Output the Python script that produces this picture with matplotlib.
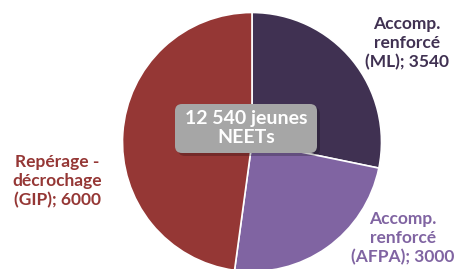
import matplotlib.pyplot as plt
from matplotlib.patches import FancyBboxPatch

# DATA
labels = ["Accomp.\nrenforcé\n(ML)", "Accomp.\nrenforcé\n(AFPA)", "Repérage -\ndécrochage\n(GIP)"]
values = [3540, 3000, 6000]
colors = ["#403152", "#8064A2", "#953735"]
center_text = "12 540 jeunes\nNEETs"

W, H = 454, 269
fig = plt.figure(figsize=(W / 100, H / 100), dpi=100)
ax = fig.add_axes([0, 0, 1, 1])

# PIE
ax.pie(values, colors=colors, startangle=90, counterclock=False,
       center=(252, 127), radius=129.5, frame=True,
       wedgeprops=dict(edgecolor="white", linewidth=1.2))
ax.set_xlim(0, W)
ax.set_ylim(0, H)
ax.set_aspect("equal")
ax.axis("off")

# LABELS
label_pos = [(407, 226), (403, 31), (57, 88)]
for lab, val, col, (x, y) in zip(labels, values, colors, label_pos):
    ax.text(x, y, f"{lab}; {val}", color=col, ha="center", va="center",
            fontsize=12.5, fontweight="bold", family="Lato", linespacing=1.25)

# CENTER BOX
shadow = FancyBboxPatch((178, 113), 142, 49, boxstyle="round,pad=0,rounding_size=7",
                        facecolor="#000000", alpha=0.22, edgecolor="none", zorder=3)
box = FancyBboxPatch((175, 116), 142, 49, boxstyle="round,pad=0,rounding_size=7",
                     facecolor="#A6A6A6", edgecolor="none", zorder=4)
ax.add_patch(shadow)
ax.add_patch(box)
ax.text(246, 141, center_text, color="white", ha="center", va="center",
        fontsize=14, fontweight="bold", family="Lato", linespacing=1.12, zorder=5)

fig.savefig("out.png", dpi=100)
